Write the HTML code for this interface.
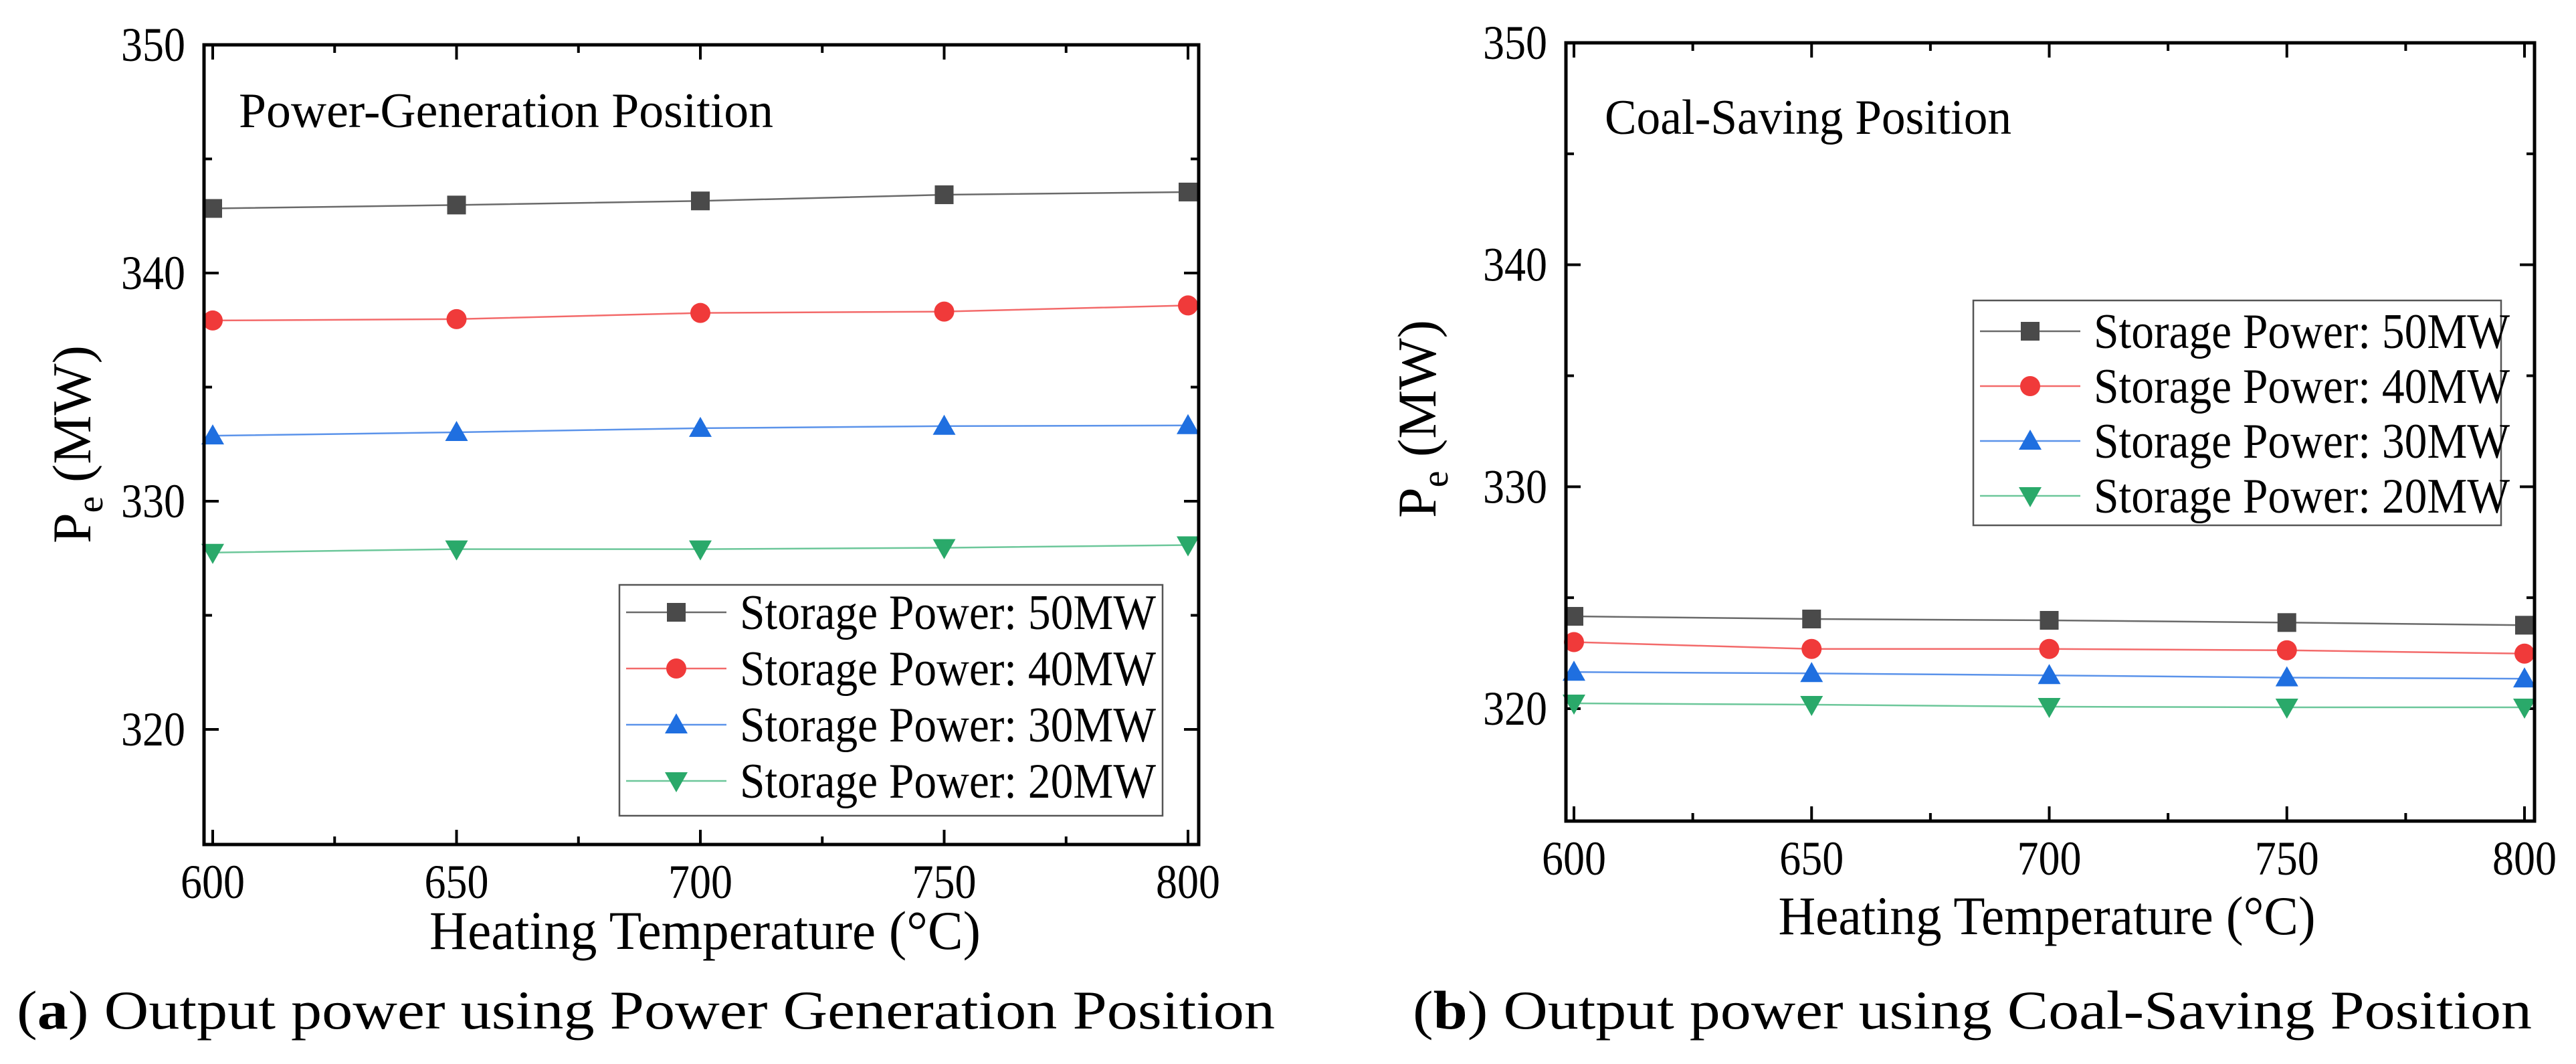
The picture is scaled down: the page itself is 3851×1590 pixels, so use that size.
<!DOCTYPE html>
<html><head><meta charset="utf-8"><style>
html,body{margin:0;padding:0;background:#fff}
svg{display:block}
svg text, svg tspan{font-family:"Liberation Serif",serif;fill:#000}
</style></head><body>
<svg id="fig" width="3851" height="1590" viewBox="0 0 3851 1590" xmlns="http://www.w3.org/2000/svg" font-family="Liberation Serif, serif"></svg>
<script>
const temps = [600, 650, 700, 750, 800];
const xTicks = [600, 650, 700, 750, 800];
const yTicks = [320, 330, 340, 350];
const seriesNames = ["Storage Power: 50MW", "Storage Power: 40MW", "Storage Power: 30MW", "Storage Power: 20MW"];
const genP50 = [342.83, 342.98, 343.16, 343.43, 343.55];
const genP40 = [337.92, 337.98, 338.25, 338.31, 338.58];
const genP30 = [332.87, 333.02, 333.20, 333.29, 333.32];
const genP20 = [327.75, 327.90, 327.90, 327.96, 328.08];
const coalP50 = [324.16, 324.04, 323.98, 323.88, 323.76];
const coalP40 = [323.00, 322.69, 322.69, 322.63, 322.48];
const coalP30 = [321.65, 321.59, 321.50, 321.40, 321.35];
const coalP20 = [320.24, 320.18, 320.09, 320.06, 320.06];

const NS = "http://www.w3.org/2000/svg";
const svg = document.getElementById('fig');
const FF = '"Liberation Serif", serif';
function mk(tag, attrs, parent, txt){
  const e = document.createElementNS(NS, tag);
  for (const k in attrs) e.setAttribute(k, attrs[k]);
  if (tag === 'text') e.setAttribute('font-family', FF);
  if (txt !== undefined) e.textContent = txt;
  (parent || svg).appendChild(e);
  return e;
}
const colors = ["#4a4a4a", "#f03a3a", "#1f6fe0", "#2aa96a"];
const lineColors = ["#6a6a6a", "#f36a6a", "#5b93ea", "#6cc79a"];
const shapes = ["square", "circle", "up", "down"];

function marker(g, shape, cx, cy, color){
  let m;
  if (shape === "square") m = mk('rect', {x: cx-14, y: cy-14, width: 28, height: 28, fill: color}, g);
  else if (shape === "circle") m = mk('circle', {cx: cx, cy: cy, r: 15, fill: color}, g);
  else if (shape === "up") m = mk('polygon', {points: `${cx},${cy-17} ${cx+17},${cy+13} ${cx-17},${cy+13}`, fill: color}, g);
  else m = mk('polygon', {points: `${cx},${cy+17} ${cx+17},${cy-13} ${cx-17},${cy-13}`, fill: color}, g);
  return m;
}

function panel(cfg){
  const g = mk('g', {});
  
  
  const X = v => cfg.x0 + (v - 600) / 200 * (cfg.x1 - cfg.x0);
  const Y = v => cfg.y320 - (v - 320) / 30 * (cfg.y320 - cfg.y350);
  const L = cfg.L, R = cfg.R, T = cfg.T, B = cfg.B;
  const ticks = mk('g', {stroke: '#000', 'stroke-width': 4}, g);
  
  
  for (let v = 600; v <= 800; v += 25) {
    const len = (v % 50 === 0) ? 22 : 12;
    mk('line', {x1: X(v), x2: X(v), y1: B, y2: B - len}, ticks);
    mk('line', {x1: X(v), x2: X(v), y1: T, y2: T + len}, ticks);
  }
  for (let v = 320; v <= 350; v += 5) {
    const len = (v % 10 === 0) ? 22 : 12;
    mk('line', {x1: L, x2: L + len, y1: Y(v), y2: Y(v)}, ticks);
    mk('line', {x1: R, x2: R - len, y1: Y(v), y2: Y(v)}, ticks);
  }
  xTicks.forEach(v => {
    const t = mk('text', {x: X(v), y: B + 80, 'font-size': 72, 'text-anchor': 'middle', textLength: 96, lengthAdjust: 'spacingAndGlyphs'}, g, String(v));
    
    
  });
  yTicks.forEach(v => {
    const t = mk('text', {x: L - 28, y: Y(v) + 24, 'font-size': 72, 'text-anchor': 'end', textLength: 96, lengthAdjust: 'spacingAndGlyphs'}, g, String(v));
    
    
  });
  cfg.data.forEach((arr, i) => {
    const sg = mk('g', {}, g);
    
    
    mk('polyline', {points: arr.map((v, j) => X(temps[j]) + ',' + Y(v)).join(' '), fill: 'none', stroke: lineColors[i], 'stroke-width': 2.5}, sg);
    arr.forEach((v, j) => {
      const m = marker(sg, shapes[i], X(temps[j]), Y(v), colors[i]);
      
      
    });
  });
  const fr = mk('rect', {x: L, y: T, width: R - L, height: B - T, fill: 'none', stroke: '#000', 'stroke-width': 5}, g);
  
  
  const lg = mk('g', {}, g);
  
  
  mk('rect', {x: cfg.lg.x, y: cfg.lg.y, width: cfg.lg.w, height: cfg.lg.h, fill: '#fff', stroke: '#555', 'stroke-width': 2.5}, lg);
  seriesNames.forEach((n, i) => {
    const ry = cfg.lg.rows[i];
    const e = mk('g', {}, lg);
    
    
    mk('line', {x1: cfg.lg.x + 10, x2: cfg.lg.x + 160, y1: ry, y2: ry, stroke: lineColors[i], 'stroke-width': 2.5}, e);
    marker(e, shapes[i], cfg.lg.x + 85, ry, colors[i]);
    mk('text', {x: cfg.lg.x + 180, y: ry + 25, 'font-size': 74, textLength: 622, lengthAdjust: 'spacingAndGlyphs'}, e, n);
  });
  const an = mk('text', {x: cfg.ann.x, y: cfg.ann.y, 'font-size': 74, textLength: cfg.ann.w, lengthAdjust: 'spacingAndGlyphs'}, g, cfg.ann.t);
  
  
  const xt = mk('text', {x: cfg.xt.x, y: cfg.xt.y, 'font-size': 82, 'text-anchor': 'middle', textLength: cfg.xt.w, lengthAdjust: 'spacingAndGlyphs'}, g, 'Heating Temperature (°C)');
  
  
  const yt = mk('text', {transform: `translate(${cfg.yt.x},${cfg.yt.y}) rotate(-90)`, 'font-size': 82, 'text-anchor': 'middle'}, g);
  
  
  mk('tspan', {}, yt, 'P');
  mk('tspan', {dy: 18, 'font-size': 56}, yt, 'e');
  mk('tspan', {dy: -18}, yt, ' (MW)');
  const cap = mk('text', {x: cfg.cap.x, y: 1537, 'font-size': 82, textLength: cfg.cap.w, lengthAdjust: 'spacingAndGlyphs'}, g);
  
  
  mk('tspan', {}, cap, '(');
  mk('tspan', {'font-weight': 'bold'}, cap, cfg.cap.l);
  mk('tspan', {}, cap, ') ' + cfg.cap.t);
}

panel({name: 'panel-a-power-generation', L: 305, R: 1792, T: 67, B: 1262, x0: 318, x1: 1776, y320: 1090, y350: 67,
  data: [genP50, genP40, genP30, genP20],
  lg: {x: 926, y: 874, w: 812, h: 345, rows: [915, 999, 1083, 1167]},
  ann: {x: 357, y: 190, w: 799, t: 'Power-Generation Position'},
  xt: {x: 1054, y: 1418, w: 824},
  yt: {x: 135, y: 664},
  cap: {x: 25, w: 1881, l: 'a', t: 'Output power using Power Generation Position'}});

panel({name: 'panel-b-coal-saving', L: 2341, R: 3789, T: 64, B: 1227, x0: 2353, x1: 3774, y320: 1059, y350: 64,
  data: [coalP50, coalP40, coalP30, coalP20],
  lg: {x: 2950, y: 449, w: 789, h: 336, rows: [495, 577, 659, 741]},
  ann: {x: 2399, y: 200, w: 608, t: 'Coal-Saving Position'},
  xt: {x: 3060, y: 1396, w: 803},
  yt: {x: 2146, y: 626},
  cap: {x: 2112, w: 1673, l: 'b', t: 'Output power using Coal-Saving Position'}});
</script>
</body></html>
